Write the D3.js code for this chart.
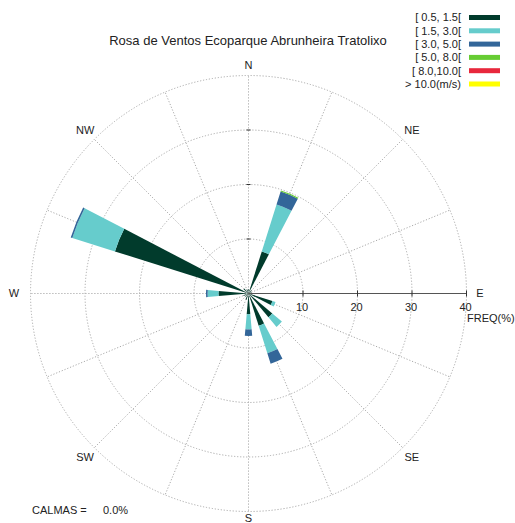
<!DOCTYPE html>
<html><head><meta charset="utf-8">
<script src="https://cdn.jsdelivr.net/npm/d3@7"></script>
<style>body{margin:0;background:#fff}svg{display:block;font-family:"Liberation Sans",Arial,sans-serif}</style>
</head><body><svg id="c" width="515" height="523"></svg>
<script>
const directions = ["N","NNE","NE","ENE","E","ESE","SE","SSE","S","SSW","SW","WSW","W","WNW","NW","NNW"];
const speedClasses = ["[ 0.5, 1.5[","[ 1.5, 3.0[","[ 3.0, 5.0[","[ 5.0, 8.0[","[ 8.0,10.0[","> 10.0(m/s)"];
const classColors = ["#013b2c","#66cccc","#336699","#66cc33","#e8283c","#ffff00"];
const s05_15  = [0.8, 8.1, 0.8, 0.6, 1.0, 4.6, 5.7, 6.2, 3.8, 1.2, 0.8, 1.0, 5.5, 25.7, 1.2, 0.8];
const s15_30  = [0,   9.0, 0,   0,   0,   0.6, 2.3, 5.3, 2.8, 0,   0,   0,   2.0, 8.2,  0,   0];
const s30_50  = [0,   2.5, 0,   0,   0,   0,   0,   2.0, 1.2, 0,   0,   0,   0.3, 0.3,  0,   0];
const s50_80  = [0,   0.2, 0,   0,   0,   0,   0,   0,   0,   0,   0,   0,   0,   0,    0,   0];
const s80_100 = [0,0,0,0,0,0,0,0,0,0,0,0,0,0,0,0];
const s100p   = [0,0,0,0,0,0,0,0,0,0,0,0,0,0,0,0];
const radialTicks = [10,20,30,40];
const compassLabels = ["N","NE","E","SE","S","SW","W","NW"];
const title = "Rosa de Ventos Ecoparque Abrunheira Tratolixo";
const calmas = "0.0%";

const series = [s05_15,s15_30,s30_50,s50_80,s80_100,s100p];
const svg = d3.select("#c");
const cx = 248.5, cy = 293.5;
const r = d3.scaleLinear().domain([0,40]).range([0,218]);
const ang = d3.scaleLinear().domain([0,16]).range([0,2*Math.PI]);
const g = svg.append("g").attr("transform",`translate(${cx},${cy})`);

// circles
g.selectAll("circle.grid").data(radialTicks).join("circle")
  .attr("r",d=>r(d)).attr("fill","none").attr("stroke","#aaa")
  .attr("stroke-width",1).attr("stroke-dasharray","1.2,1.8");
// spokes
g.selectAll("line.spoke").data(d3.range(16).filter(i=>i!==4)).join("line")
  .attr("x1",0).attr("y1",0)
  .attr("x2",i=>r(40)*Math.sin(ang(i))).attr("y2",i=>-r(40)*Math.cos(ang(i)))
  .attr("stroke","#aaa").attr("stroke-width",1).attr("stroke-dasharray","1.2,1.8");
// N axis ticks
g.selectAll("line.nt").data(radialTicks.slice(0,3)).join("line")
  .attr("x1",-2).attr("x2",2).attr("y1",d=>-r(d)).attr("y2",d=>-r(d))
  .attr("stroke","#333").attr("stroke-width",1);

// bars
const arc = d3.arc();
const half = 5*Math.PI/180;
directions.forEach((dname,i)=>{
  let cum = 0;
  series.forEach((s,k)=>{
    const v = s[i];
    if(v<=0) return;
    const a = ang(i);
    g.append("path").attr("d",arc({innerRadius:r(cum),outerRadius:r(cum+v),startAngle:a-half,endAngle:a+half}))
      .attr("fill",classColors[k]);
    cum += v;
  });
});

// E axis
const xAxis = g.append("g");
xAxis.append("line").attr("x1",0).attr("x2",r(40)).attr("y1",0).attr("y2",0).attr("stroke","#555").attr("stroke-width",1.2);
xAxis.selectAll("line.t").data(radialTicks).join("line")
  .attr("x1",d=>r(d)).attr("x2",d=>r(d)).attr("y1",-3).attr("y2",3).attr("stroke","#333");
xAxis.selectAll("text").data(radialTicks).join("text")
  .attr("x",d=>r(d)-1).attr("y",17).attr("text-anchor","middle")
  .attr("font-size",11).attr("fill","#222").text(d=>d);
svg.append("text").attr("x",467).attr("y",322).attr("font-size",11).attr("fill","#222").text("FREQ(%)");

// compass labels
const labelRadius = [228.5,231,231.5,231,224.5,231,234.5,231];
compassLabels.forEach((t,j)=>{
  const a = ang(j*2);
  const rr = labelRadius[j];
  const x = cx + rr*Math.sin(a), y = cy - rr*Math.cos(a);
  svg.append("text").attr("x",x).attr("y",y).attr("dy","0.35em").attr("text-anchor","middle")
    .attr("font-size",11).attr("fill","#222").text(t);
});

// title
svg.append("text").attr("x",248).attr("y",44.5).attr("text-anchor","middle").attr("font-size",13).attr("fill","#222").text(title);

// legend
const leg = svg.append("g");
speedClasses.forEach((t,k)=>{
  const y = 17.5 + k*13.3;
  leg.append("text").attr("x",461).attr("y",y).attr("dy","0.35em").attr("text-anchor","end").attr("font-size",11).attr("fill","#222").text(t);
  leg.append("rect").attr("x",469).attr("y",y-2.5).attr("width",31).attr("height",5).attr("fill",classColors[k]);
});

// calmas
svg.append("text").attr("x",32).attr("y",514).attr("font-size",11).attr("fill","#222").text("CALMAS =");
svg.append("text").attr("x",103).attr("y",514).attr("font-size",11).attr("fill","#222").text(calmas);
</script></body></html>
